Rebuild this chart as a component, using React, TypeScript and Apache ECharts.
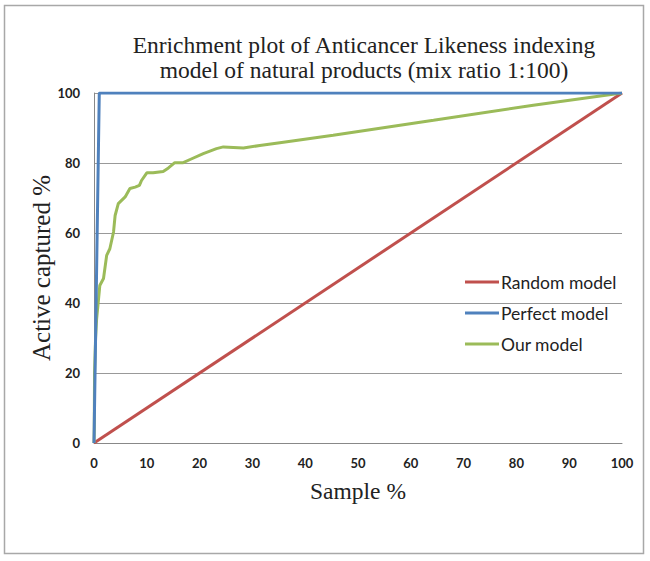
import React, { useEffect, useRef } from "react";
import * as echarts from "echarts";

const titleLines = [
  "Enrichment plot of Anticancer Likeness indexing",
  "model of natural products (mix ratio 1:100)",
];
const xTicks = [0, 10, 20, 30, 40, 50, 60, 70, 80, 90, 100];
const yTicks = [0, 20, 40, 60, 80, 100];
const seriesNames = ["Random model", "Perfect model", "Our model"];
const randomModel: [number, number][] = [
  [0, 0],
  [100, 100],
];
const perfectModel: [number, number][] = [
  [0, 0],
  [1, 100],
  [100, 100],
];
const ourModel: [number, number][] = [
  [0, 0], [0.05, 4], [0.1, 20], [0.3, 30], [0.5, 35.5], [1.1, 45], [1.8, 47],
  [2.4, 53.6], [3.0, 55.5], [3.7, 60.3], [4.0, 65], [4.6, 68.4], [5.9, 70.3],
  [6.8, 72.7], [7.8, 73.1], [8.6, 73.6], [9.0, 75], [10.0, 77.2], [11.2, 77.2],
  [13.1, 77.6], [14.1, 78.6], [15.3, 80.1], [16.9, 80.1], [18.2, 81], [20.7, 82.7],
  [23.2, 84.1], [24.5, 84.6], [28.3, 84.3], [31.4, 85], [35.2, 85.8], [45.3, 87.9],
  [64.3, 92.2], [83.2, 96.5], [100, 100],
];
const colors = ["#C0504D", "#4F81BD", "#9BBB59"];

export default function App() {
  const ref = useRef<HTMLDivElement>(null);
  useEffect(() => {
    document.body.style.margin = "0";
    const chart = echarts.init(ref.current!, null, { renderer: "svg" });
    const serif = "'Liberation Serif', serif";
    const sans = "Lato, 'Liberation Sans', sans-serif";
    chart.setOption({
      animation: false,
      backgroundColor: "#ffffff",
      title: {
        text: titleLines.join("\n"),
        left: 359,
        top: 27,
        textAlign: "center",
        textStyle: {
          fontFamily: serif,
          fontSize: 23.5,
          fontWeight: "normal",
          color: "#222",
          lineHeight: 25,
        },
      },
      graphic: [
        {
          type: "rect",
          shape: { x: 4.5, y: 5.5, width: 639, height: 548 },
          style: { fill: "none", stroke: "#a8a8a8", lineWidth: 1.5 },
          silent: true,
          z: -1,
        },
      ],
      legend: {
        orient: "vertical",
        left: 460,
        top: 268,
        itemWidth: 34,
        itemHeight: 3,
        itemGap: 13,
        icon: "rect",
        data: seriesNames,
        textStyle: { fontFamily: sans, fontSize: 17.5, color: "#222", padding: [0, 0, 0, -3], lineHeight: 18 },
      },
      grid: { left: 94, right: 28, top: 93, bottom: 118 },
      xAxis: {
        type: "value",
        min: 0,
        max: 100,
        interval: 10,
        name: "Sample %",
        nameLocation: "middle",
        nameGap: 36,
        nameMoveOverlap: false,
        nameTextStyle: { fontFamily: serif, fontSize: 23.5, color: "#222" },
        axisLine: { show: true, lineStyle: { color: "#888", width: 1 } },
        axisTick: { show: false },
        splitLine: { show: false },
        axisLabel: {
          margin: 13,
          fontFamily: sans,
          fontWeight: "bold",
          fontSize: 13,
          color: "#222",
          formatter: (v: number) => (xTicks.includes(v) ? String(v) : ""),
        },
      },
      yAxis: {
        type: "value",
        min: 0,
        max: 100,
        interval: 20,
        name: "Active captured %",
        nameLocation: "middle",
        nameGap: 40,
        nameMoveOverlap: false,
        nameRotate: 90,
        nameTextStyle: { fontFamily: serif, fontSize: 25, color: "#222" },
        axisLine: { show: true, lineStyle: { color: "#888", width: 1 } },
        axisTick: { show: false },
        splitLine: { show: true, lineStyle: { color: "#999", width: 1 } },
        axisLabel: {
          margin: 14,
          fontFamily: sans,
          fontWeight: "bold",
          fontSize: 13,
          color: "#222",
          formatter: (v: number) => (yTicks.includes(v) ? String(v) : ""),
        },
      },
      series: [
        {
          name: seriesNames[0],
          type: "line",
          data: randomModel,
          showSymbol: false,
          lineStyle: { width: 3, color: colors[0] },
          itemStyle: { color: colors[0] },
          z: 2,
        },
        {
          name: seriesNames[1],
          type: "line",
          data: perfectModel,
          showSymbol: false,
          lineStyle: { width: 3, color: colors[1] },
          itemStyle: { color: colors[1] },
          z: 4,
        },
        {
          name: seriesNames[2],
          type: "line",
          data: ourModel,
          showSymbol: false,
          lineStyle: { width: 3, color: colors[2] },
          itemStyle: { color: colors[2] },
          z: 3,
        },
      ],
    });
    return () => chart.dispose();
  }, []);
  return <div ref={ref} style={{ width: 650, height: 561 }} />;
}
